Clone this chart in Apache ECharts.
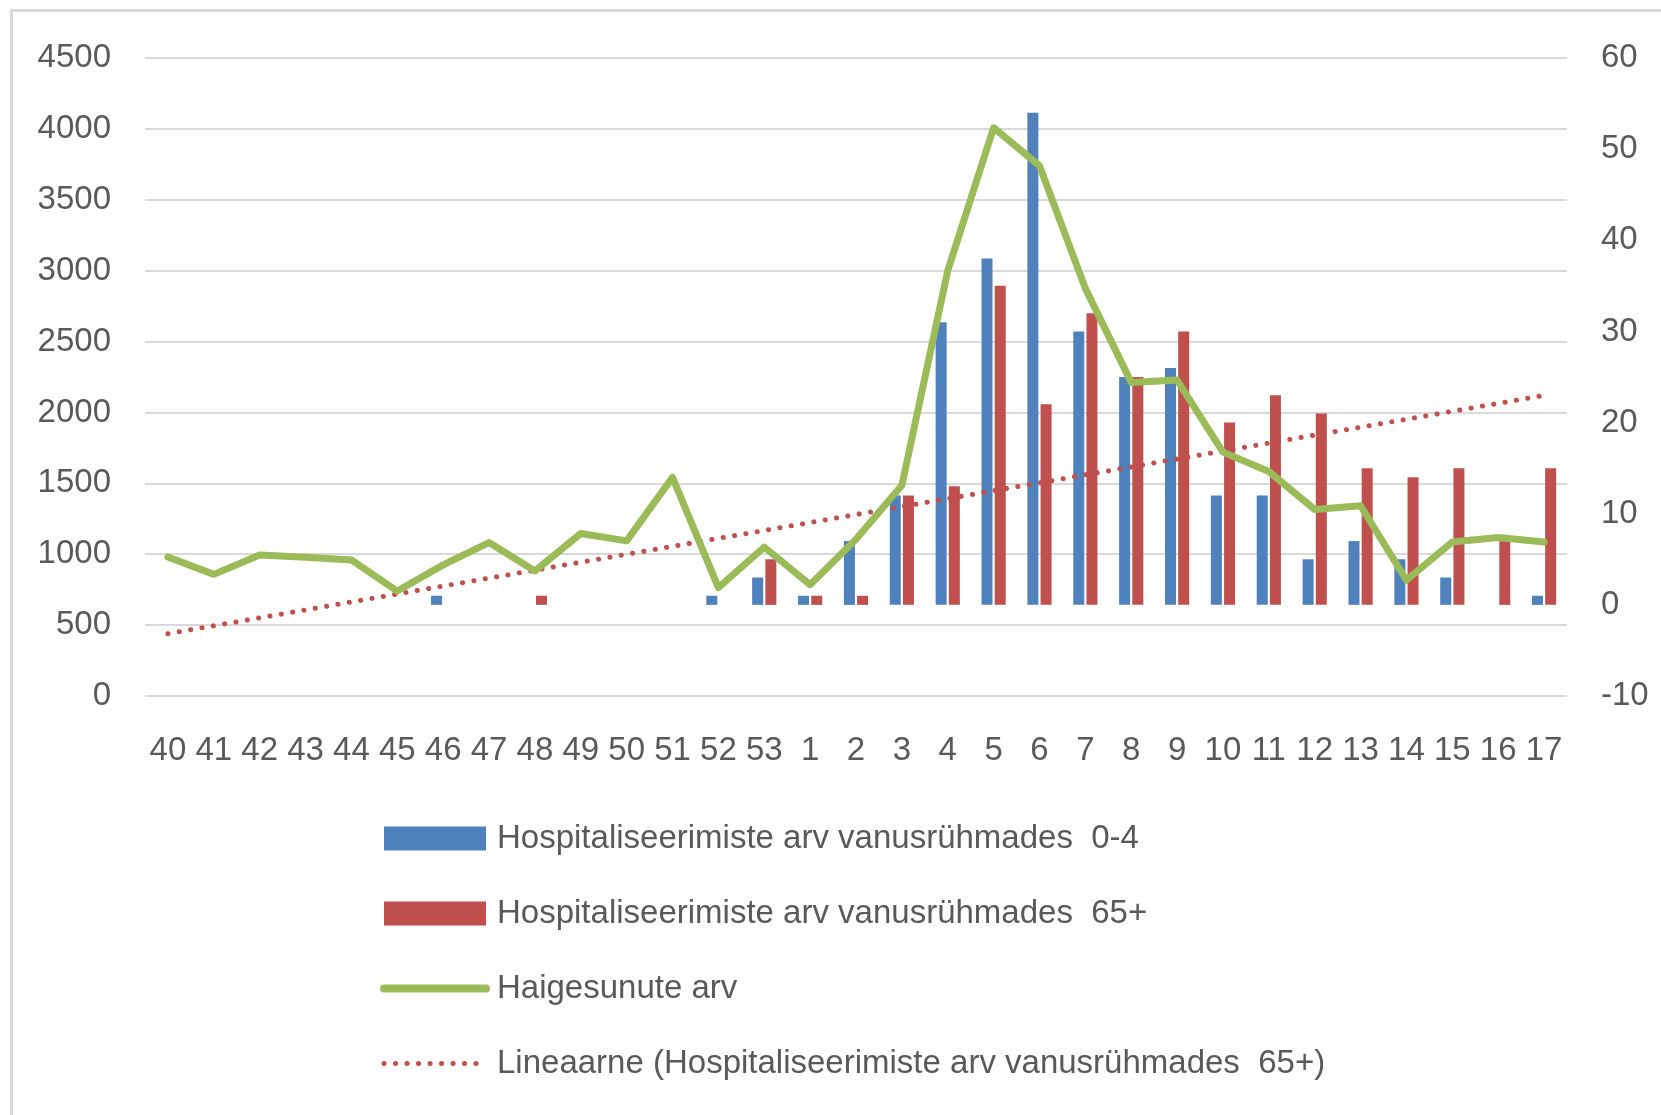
<!DOCTYPE html>
<html>
<head>
<meta charset="utf-8">
<title>Hospitaliseerimised</title>
<script src="https://cdn.jsdelivr.net/npm/echarts@6.0.0/dist/echarts.min.js"></script>
<style>
    html, body { margin: 0; padding: 0; background: #fff; }
    #chart { width: 1661px; height: 1115px; }
</style>
</head>
<body>
<div id="chart"></div>
<script>
// nädalad
var weeks = ['40','41','42','43','44','45','46','47','48','49','50','51','52','53',
    '1','2','3','4','5','6','7','8','9','10','11','12','13','14','15','16','17'];

// haigestunud (vasak telg)
var sick = [980, 858, 995, 978, 960, 740, 925, 1082, 882, 1146, 1094, 1542, 765, 1050,
    785, 1105, 1487, 3000, 4008, 3740, 2875, 2212, 2228, 1720, 1583, 1315, 1342, 817, 1086, 1118, 1086];

// hospitaliseerimised (parem telg)
var hosp04 = [0, 0, 0, 0, 0, 0, 1, 0, 0, 0, 0, 0, 1, 3,
    1, 7, 12, 31, 38, 54, 30, 25, 26, 12, 12, 5, 7, 5, 3, 0, 1];
var hosp65 = [0, 0, 0, 0, 0, 0, 0, 0, 1, 0, 0, 0, 0, 5,
    1, 1, 12, 13, 35, 22, 32, 25, 30, 20, 23, 21, 15, 14, 15, 7, 15];

var leftTicks = { min: 0, max: 4500, step: 500 };
var rightTicks = { min: -10, max: 60, step: 10 };

var names = [
    'Hospitaliseerimiste arv vanusrühmades  0-4',
    'Hospitaliseerimiste arv vanusrühmades  65+',
    'Haigesunute arv',
    'Lineaarne (Hospitaliseerimiste arv vanusrühmades  65+)'
];

// lineaarne trend (vähimruutude meetod), x = 1..n
var linearTrend = function (arr) {
    var n = arr.length, sx = 0, sy = 0, sxx = 0, sxy = 0;
    for (var i = 0; i < n; i++) {
        var x = i + 1;
        sx += x; sy += arr[i]; sxx += x * x; sxy += x * arr[i];
    }
    var b = (n * sxy - sx * sy) / (n * sxx - sx * sx);
    var a = (sy - b * sx) / n;
    var out = [];
    for (var j = 0; j < n; j++) {
        out.push(+(a + b * (j + 1)).toFixed(3));
    }
    return out;
};

var font = '"Liberation Sans", Arial, sans-serif';
var textColor = '#595959';
var plain = function (v) { return String(v); };

var chart = echarts.init(document.getElementById('chart'));

var option = {
    backgroundColor: '#fff',
    animation: false,
    graphic: [{
        type: 'rect',
        silent: true,
        z: -10,
        shape: { x: 11.5, y: 10.5, width: 1700, height: 1200 },
        style: { fill: 'none', stroke: '#d9d9d9', lineWidth: 3 }
    }],
    grid: {
        left: 145,
        right: 94,
        top: 58,
        bottom: 419
    },
    legend: {
        orient: 'vertical',
        left: 380,
        top: 822,
        padding: 0,
        itemWidth: 102,
        itemHeight: 24,
        itemGap: 42,
        selectedMode: false,
        textStyle: {
            fontFamily: font,
            fontSize: 33,
            color: textColor,
            padding: [0, 0, 0, 6]
        },
        data: [
            { name: names[0], icon: 'rect' },
            { name: names[1], icon: 'rect' },
            { name: names[2], itemStyle: { opacity: 0 }, lineStyle: { width: 8, cap: 'round' } },
            { name: names[3], itemStyle: { opacity: 0 }, lineStyle: { width: 5, cap: 'round' } }
        ]
    },
    xAxis: {
        type: 'category',
        data: weeks,
        boundaryGap: true,
        axisLine: { show: false },
        axisTick: { show: false },
        axisLabel: {
            margin: 38,
            interval: 0,
            fontFamily: font,
            fontSize: 33,
            color: textColor
        }
    },
    yAxis: [
        {
            type: 'value',
            min: leftTicks.min,
            max: leftTicks.max,
            interval: leftTicks.step,
            axisLine: { show: false },
            axisTick: { show: false },
            splitLine: { lineStyle: { color: '#d9d9d9', width: 2 } },
            axisLabel: {
                margin: 34,
                formatter: plain,
                fontFamily: font,
                fontSize: 33,
                color: textColor
            }
        },
        {
            type: 'value',
            min: rightTicks.min,
            max: rightTicks.max,
            interval: rightTicks.step,
            axisLine: { show: false },
            axisTick: { show: false },
            splitLine: { show: false },
            axisLabel: {
                margin: 34,
                formatter: plain,
                fontFamily: font,
                fontSize: 33,
                color: textColor
            }
        }
    ],
    series: [
        {
            name: names[0],
            type: 'bar',
            yAxisIndex: 1,
            barWidth: 11,
            barGap: '20%',
            itemStyle: { color: '#4f81bd' },
            data: hosp04
        },
        {
            name: names[1],
            type: 'bar',
            yAxisIndex: 1,
            barWidth: 11,
            barGap: '20%',
            itemStyle: { color: '#c0504d' },
            data: hosp65
        },
        {
            name: names[3],
            type: 'line',
            yAxisIndex: 1,
            symbol: 'none',
            silent: true,
            lineStyle: { color: '#c0504d', width: 5, type: [0.1, 11.4], cap: 'round' },
            itemStyle: { color: '#c0504d' },
            data: linearTrend(hosp65)
        },
        {
            name: names[2],
            type: 'line',
            yAxisIndex: 0,
            symbol: 'none',
            lineStyle: { color: '#9bbb59', width: 7, join: 'round', cap: 'round' },
            itemStyle: { color: '#9bbb59' },
            data: sick
        }
    ]
};

chart.setOption(option);
</script>
</body>
</html>
